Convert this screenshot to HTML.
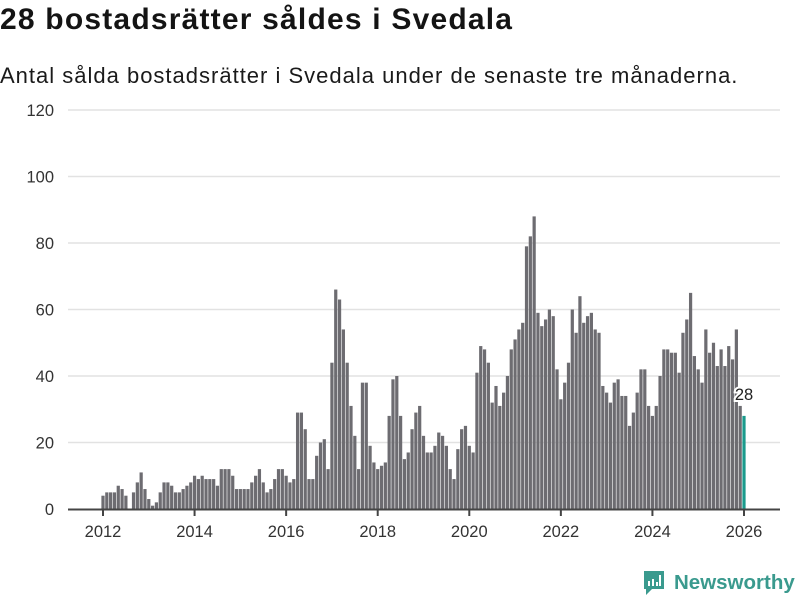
<!DOCTYPE html>
<html><head><meta charset="utf-8">
<style>
body{margin:0;width:800px;height:600px;background:#fff;overflow:hidden;font-family:"Liberation Sans","DejaVu Sans",sans-serif;}
#title{position:absolute;left:0;top:3px;font-size:30px;font-weight:bold;color:#141414;margin:0;letter-spacing:1.2px;}
#sub{position:absolute;left:0;top:63px;font-size:22px;color:#1a1a1a;margin:0;letter-spacing:1px;}
svg{position:absolute;left:0;top:0;}
#logo{position:absolute;left:642px;top:569px;display:flex;align-items:center;}
#logo span{font-size:20.5px;font-weight:bold;color:#3a9a8e;margin-left:8px;}
</style></head><body>
<h1 id="title">28 bostadsrätter såldes i Svedala</h1>
<p id="sub">Antal sålda bostadsrätter i Svedala under de senaste tre månaderna.</p>
<svg id="chart" width="800" height="600"></svg>
<div id="logo">
<svg width="24" height="28" style="position:static"><path d="M2 2h20v18h-12l-6 6v-6h-2z" fill="#3a9a8e"/><rect x="6" y="12" width="2" height="5" fill="#fff"/><rect x="10" y="10" width="2" height="7" fill="#fff"/><rect x="14" y="13" width="2" height="4" fill="#fff"/><rect x="17" y="6" width="2" height="11" fill="#fff"/></svg>
<span>Newsworthy</span></div>
<script>
const values=[4,5,5,5,7,6,4,0,5,8,11,6,3,1,2,5,8,8,7,5,5,6,7,8,
10,9,10,9,9,9,7,12,12,12,10,6,6,6,6,8,10,12,8,5,6,9,12,12,
10,8,9,29,29,24,9,9,16,20,21,12,44,66,63,54,44,31,22,12,38,38,19,14,
12,13,14,28,39,40,28,15,17,24,29,31,22,17,17,19,23,22,19,12,9,18,24,25,
19,17,41,49,48,44,32,37,31,35,40,48,51,54,56,79,82,88,59,55,57,60,58,42,
33,38,44,60,53,64,56,58,59,54,53,37,35,32,38,39,34,34,25,29,35,42,42,31,
28,31,40,48,48,47,47,41,53,57,65,46,42,38,54,47,50,43,48,43,49,45,54,31,
28];
const startYear=2012;
const yTicks=[0,20,40,60,80,100,120];
const xTickYears=[2012,2014,2016,2018,2020,2022,2024,2026];
const NS="http://www.w3.org/2000/svg";
const svg=document.getElementById('chart');
const x0=103,x1=744,y0=509,y1=110;
const nMonths=(2026-startYear)*12;
function xs(i){return x0+(x1-x0)*i/nMonths;}
function ys(v){return y0-(y0-y1)*v/120;}
function mk(t,a){const e=document.createElementNS(NS,t);for(const k in a)e.setAttribute(k,a[k]);svg.appendChild(e);return e;}
yTicks.forEach(v=>{
 if(v>0){const g=mk('line',{x1:68,x2:780,y1:ys(v),y2:ys(v),stroke:'#e2e2e2','stroke-width':1.5});
 
 }
 const t=mk('text',{x:54,y:ys(v)+6,'text-anchor':'end','font-size':16.5,fill:'#333','font-family':'Liberation Sans, sans-serif'});
 t.textContent=v;
 
 
});
const bw=(x1-x0)/nMonths-0.6;
values.forEach((v,i)=>{
 const last=i===values.length-1;
 const r=mk('rect',{x:xs(i)-bw/2,y:ys(v),width:bw,height:y0-ys(v),fill:last?'#1a9a8c':'#6d6c71'});
 
 
});
const ax=mk('line',{x1:68,x2:780,y1:y0+0.5,y2:y0+0.5,stroke:'#444','stroke-width':2});


xTickYears.forEach(yr=>{
 const x=xs((yr-startYear)*12);
 const tk=mk('line',{x1:x,x2:x,y1:y0,y2:y0+7,stroke:'#444','stroke-width':2});
 
 
 const t=mk('text',{x:x,y:537,'text-anchor':'middle','font-size':16.5,fill:'#333','font-family':'Liberation Sans, sans-serif'});
 t.textContent=yr;
 
 
});
const li=values.length-1;
const lab=mk('text',{x:xs(li),y:ys(values[li])-16,'text-anchor':'middle','font-size':16.5,fill:'#222',stroke:'#fff','stroke-width':4,'paint-order':'stroke','font-family':'Liberation Sans, sans-serif'});
lab.textContent=values[li];


</script>
</body></html>
